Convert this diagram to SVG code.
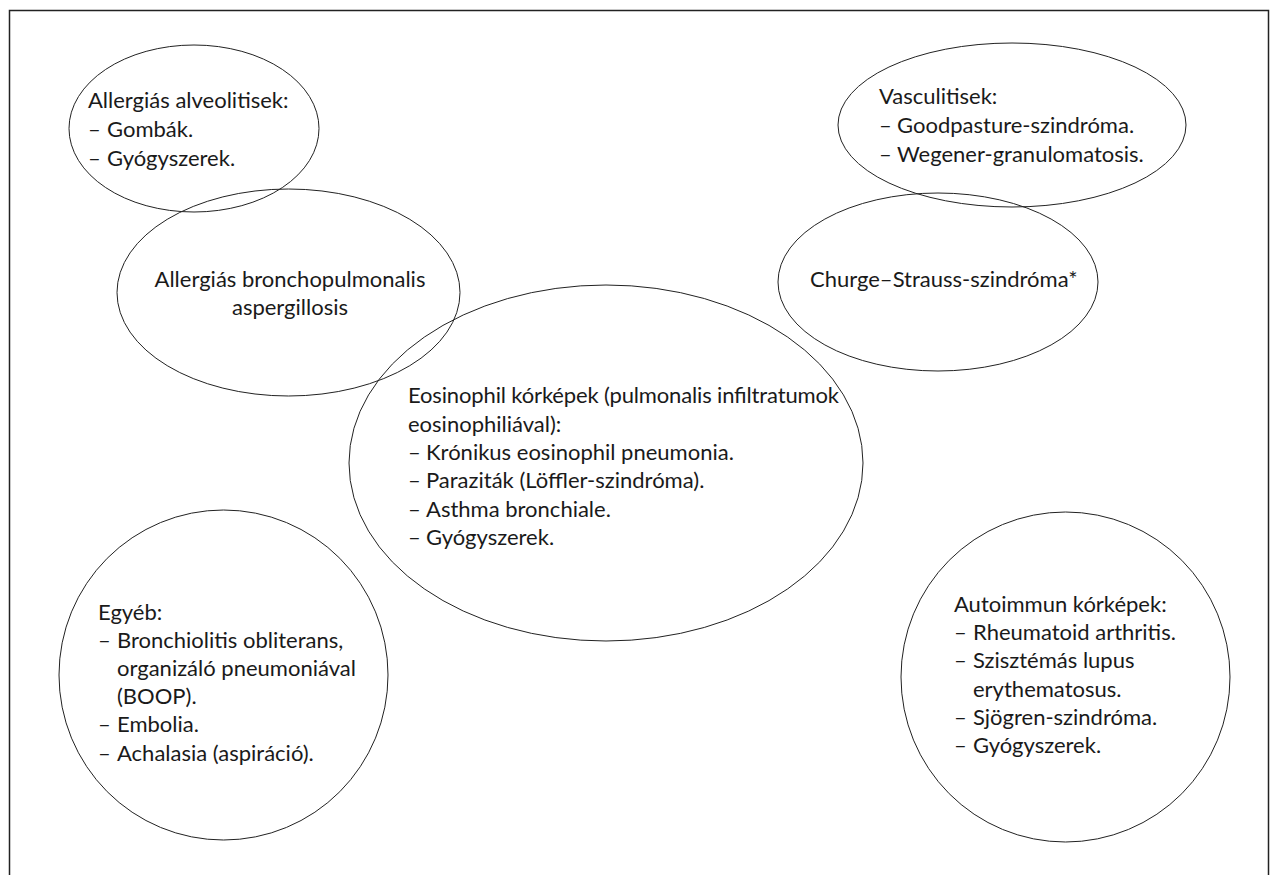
<svg xmlns="http://www.w3.org/2000/svg" width="1274" height="875" viewBox="0 0 1274 875">
<style>
.shape{fill:none;stroke:#222;stroke-width:1}
.t{font-family:Lato,"Open Sans","Liberation Sans",sans-serif;font-size:22px;fill:#1a1a1a}
.c{text-anchor:middle}
</style>
<rect x="9.5" y="10.5" width="1259" height="870" fill="#fff" stroke="#222" stroke-width="1.5"/>
<g id="allergias-alveolitisek">
<ellipse class="shape" cx="194" cy="128.5" rx="125" ry="83.5"/>
<text class="t"><tspan x="88" y="108">Allergiás alveolitisek:</tspan><tspan x="88" y="137">–</tspan><tspan x="107" y="137">Gombák.</tspan><tspan x="88" y="166">–</tspan><tspan x="107" y="166">Gyógyszerek.</tspan></text>
</g>
<g id="abpa">
<ellipse class="shape" cx="288.5" cy="292.5" rx="171.5" ry="103.5"/>
<text class="t c"><tspan x="290" y="287">Allergiás bronchopulmonalis</tspan><tspan x="290" y="315">aspergillosis</tspan></text>
</g>
<g id="vasculitisek">
<ellipse class="shape" cx="1012" cy="125" rx="174" ry="82"/>
<text class="t"><tspan x="879" y="104">Vasculitisek:</tspan><tspan x="879" y="133">–</tspan><tspan x="897" y="133">Goodpasture-szindróma.</tspan><tspan x="879" y="162">–</tspan><tspan x="897" y="162">Wegener-granulomatosis.</tspan></text>
</g>
<g id="churge-strauss">
<ellipse class="shape" cx="938" cy="282" rx="160" ry="89"/>
<text class="t" x="810" y="287">Churge–Strauss-szindróma*</text>
</g>
<g id="eosinophil">
<ellipse class="shape" cx="606" cy="463" rx="257" ry="178"/>
<text class="t" x="408" y="403" textLength="431">Eosinophil kórképek (pulmonalis infiltratumok</text>
<text class="t"><tspan x="408" y="432">eosinophiliával):</tspan><tspan x="408" y="460">–</tspan><tspan x="426" y="460">Krónikus eosinophil pneumonia.</tspan><tspan x="408" y="488">–</tspan><tspan x="426" y="488">Paraziták (Löffler-szindróma).</tspan><tspan x="408" y="517">–</tspan><tspan x="426" y="517">Asthma bronchiale.</tspan><tspan x="408" y="545">–</tspan><tspan x="426" y="545">Gyógyszerek.</tspan></text>
</g>
<g id="egyeb">
<ellipse class="shape" cx="223.5" cy="675" rx="164.5" ry="165"/>
<text class="t"><tspan x="98" y="620">Egyéb:</tspan><tspan x="98" y="648">–</tspan><tspan x="117" y="648">Bronchiolitis obliterans,</tspan><tspan x="117" y="676">organizáló pneumoniával</tspan><tspan x="117" y="704">(BOOP).</tspan><tspan x="98" y="732">–</tspan><tspan x="117" y="732">Embolia.</tspan><tspan x="98" y="761">–</tspan><tspan x="117" y="761">Achalasia (aspiráció).</tspan></text>
</g>
<g id="autoimmun">
<ellipse class="shape" cx="1065.5" cy="677" rx="164.5" ry="165"/>
<text class="t"><tspan x="954" y="612">Autoimmun kórképek:</tspan><tspan x="954" y="640">–</tspan><tspan x="973" y="640">Rheumatoid arthritis.</tspan><tspan x="954" y="668">–</tspan><tspan x="973" y="668">Szisztémás lupus</tspan><tspan x="973" y="697">erythematosus.</tspan><tspan x="954" y="725">–</tspan><tspan x="973" y="725">Sjögren-szindróma.</tspan><tspan x="954" y="753">–</tspan><tspan x="973" y="753">Gyógyszerek.</tspan></text>
</g>
<g id="connectors"></g>
</svg>
